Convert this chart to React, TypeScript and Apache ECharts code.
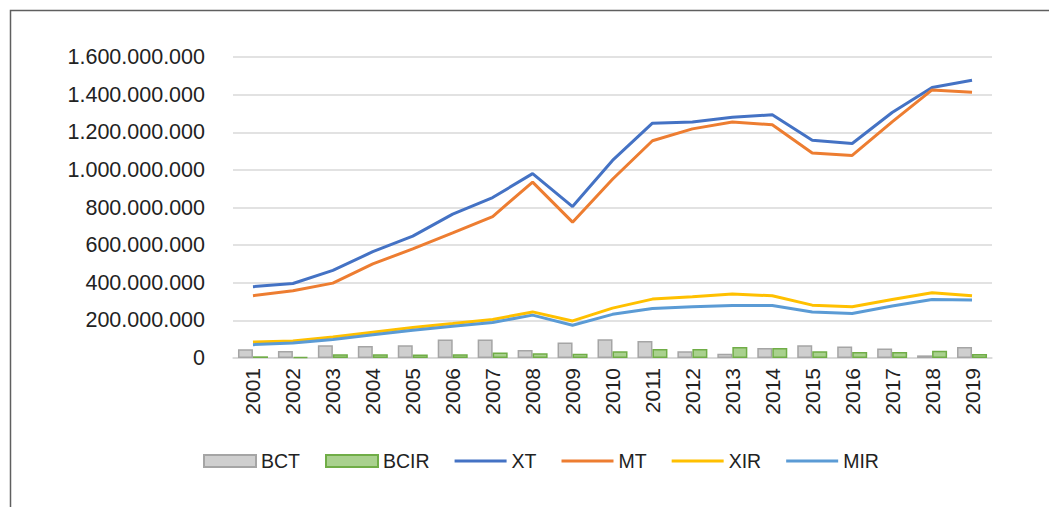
import React, { useEffect, useRef } from "react";
import * as echarts from "echarts";

const years = ["2001","2002","2003","2004","2005","2006","2007","2008","2009","2010","2011","2012","2013","2014","2015","2016","2017","2018","2019"];
const BCT = [46e6, 37e6, 68e6, 64e6, 68e6, 98e6, 98e6, 43e6, 82e6, 100e6, 91e6, 36e6, 23e6, 53e6, 68e6, 61e6, 50e6, 14e6, 59e6];
const BCIR = [9e6, 5e6, 20e6, 20e6, 18e6, 20e6, 29e6, 25e6, 23e6, 36e6, 48e6, 48e6, 59e6, 53e6, 36e6, 32e6, 32e6, 39e6, 21e6];
const XT = [379e6, 396e6, 466e6, 565e6, 648e6, 765e6, 853e6, 980e6, 805e6, 1050e6, 1248e6, 1255e6, 1280e6, 1293e6, 1158e6, 1140e6, 1305e6, 1438e6, 1476e6];
const MT = [331e6, 357e6, 398e6, 500e6, 580e6, 665e6, 752e6, 935e6, 722e6, 950e6, 1155e6, 1218e6, 1255e6, 1240e6, 1090e6, 1077e6, 1255e6, 1425e6, 1412e6];
const XIR = [85e6, 91e6, 112e6, 137e6, 162e6, 183e6, 205e6, 245e6, 197e6, 265e6, 313e6, 325e6, 340e6, 331e6, 281e6, 272e6, 311e6, 347e6, 331e6];
const MIR = [71e6, 80e6, 98e6, 123e6, 148e6, 169e6, 189e6, 228e6, 174e6, 232e6, 263e6, 272e6, 279e6, 279e6, 244e6, 237e6, 276e6, 311e6, 308e6];
const yTicks = { min: 0, max: 1600000000, interval: 200000000 };

const fmt = (v: number) => String(Math.round(v)).replace(/\B(?=(\d{3})+(?!\d))/g, ".");

const LINE_ICON = "path://M0 0H52V3H0Z";

export default function App() {
  const ref = useRef<HTMLDivElement>(null);
  useEffect(() => {
    if (!ref.current) return;
    const chart = echarts.init(ref.current, null, { renderer: "svg" });
    const font = "'Liberation Sans', Arial, sans-serif";
    const line = (name: string, data: number[], color: string) => ({
      name,
      type: "line",
      data,
      symbol: "none",
      lineStyle: { color, width: 3 },
      itemStyle: { color },
    });
    chart.setOption({
      animation: false,
      textStyle: { fontFamily: font },
      graphic: [
        {
          type: "rect",
          shape: { x: 10.5, y: 10.5, width: 1200, height: 700 },
          style: { fill: "none", stroke: "#5f5f5f", lineWidth: 1.5 },
          silent: true,
        },
      ],
      grid: { left: 233, right: 57, top: 57, bottom: 149 },
      legend: {
        left: 203,
        top: 451,
        padding: 0,
        itemWidth: 52,
        itemHeight: 12,
        itemGap: 25,
        symbolKeepAspect: true,
        textStyle: { fontSize: 19.5, color: "#222", fontFamily: font },
        data: [
          { name: "BCT", icon: "rect" },
          { name: "BCIR", icon: "rect" },
          { name: "XT", icon: LINE_ICON },
          { name: "MT", icon: LINE_ICON },
          { name: "XIR", icon: LINE_ICON },
          { name: "MIR", icon: LINE_ICON },
        ],
      },
      xAxis: {
        type: "category",
        data: years,
        axisLine: { lineStyle: { color: "#d9d9d9", width: 1.5 } },
        axisTick: { show: false },
        axisLabel: { rotate: 90, fontSize: 21, color: "#222", margin: 10, fontFamily: font },
      },
      yAxis: {
        type: "value",
        min: yTicks.min,
        max: yTicks.max,
        interval: yTicks.interval,
        axisLine: { show: false },
        axisTick: { show: false },
        splitLine: { lineStyle: { color: "#d9d9d9", width: 1.5 } },
        axisLabel: { fontSize: 21.5, color: "#222", margin: 28, formatter: (v: number) => fmt(v), fontFamily: font },
      },
      series: [
        {
          name: "BCT",
          type: "bar",
          data: BCT,
          barWidth: 15,
          barGap: "0%",
          itemStyle: { color: "#cfcfcf", borderColor: "#a5a5a5", borderWidth: 1.5 },
        },
        {
          name: "BCIR",
          type: "bar",
          data: BCIR,
          barWidth: 15,
          barGap: "0%",
          itemStyle: { color: "#a9d18e", borderColor: "#70ad47", borderWidth: 1.5 },
        },
        line("XT", XT, "#4472c4"),
        line("MT", MT, "#ed7d31"),
        line("XIR", XIR, "#ffc000"),
        line("MIR", MIR, "#5b9bd5"),
      ],
    });
    return () => chart.dispose();
  }, []);
  return (
    <div
      ref={ref}
      style={{ position: "fixed", left: 0, top: 0, width: 1049, height: 507, background: "#fff" }}
    />
  );
}
